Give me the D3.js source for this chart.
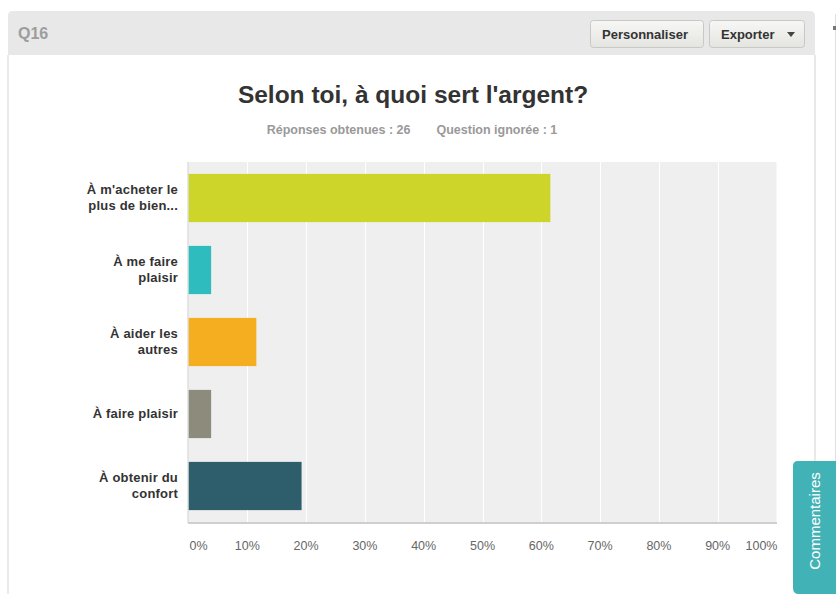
<!DOCTYPE html>
<html><head><meta charset="utf-8">
<script src="https://cdn.jsdelivr.net/npm/d3@7"></script>
<style>
body{margin:0;background:#fff;font-family:"Liberation Sans",Arial,sans-serif;}
svg{display:block;}
</style></head>
<body><svg id="c" width="839" height="594"></svg>
<script>
const categories = [["À m'acheter le","plus de bien..."],["À me faire","plaisir"],["À aider les","autres"],["À faire plaisir"],["À obtenir du","confort"]];
const values = [61.54, 3.85, 11.54, 3.85, 19.23];
const colors = ["#cdd52a","#2ebcbf","#f5ae1f","#8c8b7c","#2e5e6c"];
const ticks = [0,10,20,30,40,50,60,70,80,90,100];
const tickLabels = ["0%","10%","20%","30%","40%","50%","60%","70%","80%","90%","100%"];
const title = "Selon toi, à quoi sert l'argent?";
const subtitleParts = ["Réponses obtenues : 26","Question ignorée : 1"];

const svg = d3.select("#c");
// panel
svg.append("path").attr("d","M8,55 L8,594 M815,55 L815,594").attr("stroke","#e2e2e2").attr("stroke-width",1.5).attr("fill","none");
svg.append("path").attr("d","M8,55 L8,16 Q8,11 13,11 L810,11 Q815,11 815,16 L815,55 Z").attr("fill","#e8e8e8");
svg.append("line").attr("x1",835.5).attr("x2",835.5).attr("y1",14).attr("y2",594).attr("stroke","#e0e0e0");
svg.append("rect").attr("x",833).attr("y",26).attr("width",3).attr("height",4).attr("fill","#777");
svg.append("text").attr("x",18).attr("y",39).attr("font-size",16).attr("fill","#9d9d9d").attr("font-weight","bold").text("Q16");
// buttons
const defs = svg.append("defs");
const g = defs.append("linearGradient").attr("id","bg").attr("x1",0).attr("x2",0).attr("y1",0).attr("y2",1);
g.append("stop").attr("offset","0").attr("stop-color","#f7f7f5");
g.append("stop").attr("offset","1").attr("stop-color","#e4e4e1");
function btn(x,w,label){
  svg.append("rect").attr("x",x+0.5).attr("y",20.5).attr("width",w).attr("height",27).attr("rx",3).attr("fill","url(#bg)").attr("stroke","#c8c8c4");
  svg.append("text").attr("x",x+12).attr("y",38.5).attr("font-size",13).attr("font-weight","bold").attr("fill","#333").text(label);
}
btn(590,113,"Personnaliser");
btn(709,95,"Exporter");
svg.append("path").attr("d","M787,32 L795,32 L791,37 Z").attr("fill","#444");

// titles
svg.append("text").attr("x",413).attr("y",103).attr("text-anchor","middle").attr("font-size",24.5).attr("font-weight","bold").attr("fill","#333").text(title);
const st = svg.append("text").attr("x",412).attr("y",134).attr("text-anchor","middle").attr("font-size",12.5).attr("font-weight","bold").attr("fill","#999");
st.append("tspan").text(subtitleParts[0]);
st.append("tspan").attr("dx",26).text(subtitleParts[1]);

// chart
const x = d3.scaleLinear().domain([0,100]).range([188.5,776.5]);
const y = d3.scaleBand().domain(d3.range(categories.length)).range([162,522]).paddingInner(0.33).paddingOuter(0.165);
svg.append("rect").attr("x",x(0)).attr("y",162).attr("width",x(100)-x(0)).attr("height",522-162).attr("fill","#efefef");
svg.selectAll(".grid").data(ticks.slice(1,-1)).enter().append("line")
  .attr("x1",d=>Math.round(x(d))+0.5).attr("x2",d=>Math.round(x(d))+0.5).attr("y1",162).attr("y2",522).attr("stroke","#fff").attr("stroke-width",1);
svg.selectAll(".bar").data(values).enter().append("rect")
  .attr("x",x(0)).attr("y",(d,i)=>y(i)).attr("width",d=>x(d)-x(0)).attr("height",y.bandwidth())
  .attr("fill",(d,i)=>colors[i]);
svg.append("line").attr("x1",188).attr("x2",188).attr("y1",162).attr("y2",523).attr("stroke","#cfcfcf");
svg.append("line").attr("x1",188).attr("x2",777).attr("y1",523).attr("y2",523).attr("stroke","#cfcfcf").attr("stroke-width",2);

// x labels
svg.selectAll(".xl").data(ticks).enter().append("text")
  .attr("x",(d,i)=> i===0 ? x(d)+1 : (i===ticks.length-1 ? x(d)+1 : x(d)))
  .attr("y",550).attr("font-size",12.5).attr("fill","#666")
  .attr("text-anchor",(d,i)=> i===0 ? "start" : (i===ticks.length-1 ? "end" : "middle"))
  .text((d,i)=>tickLabels[i]);

// y labels
categories.forEach((lines,i)=>{
  const cy = y(i)+y.bandwidth()/2;
  const t = svg.append("text").attr("text-anchor","end").attr("font-size",13).attr("letter-spacing",0.2).attr("font-weight","bold").attr("fill","#333");
  const lh = 16;
  const start = cy - (lines.length-1)*lh/2 + 4;
  lines.forEach((l,j)=>t.append("tspan").attr("x",178).attr("y",start+j*lh).text(l));
});

// Commentaires tab
svg.append("path").attr("d","M793,588 L793,466 Q793,461 798,461 L836,461 L836,594 L799,594 Q793,594 793,588 Z").attr("fill","#41b3b6");
svg.append("text").attr("transform","translate(820,521) rotate(-90)").attr("text-anchor","middle").attr("font-size",15).attr("fill","#fff").text("Commentaires");
</script></body></html>
